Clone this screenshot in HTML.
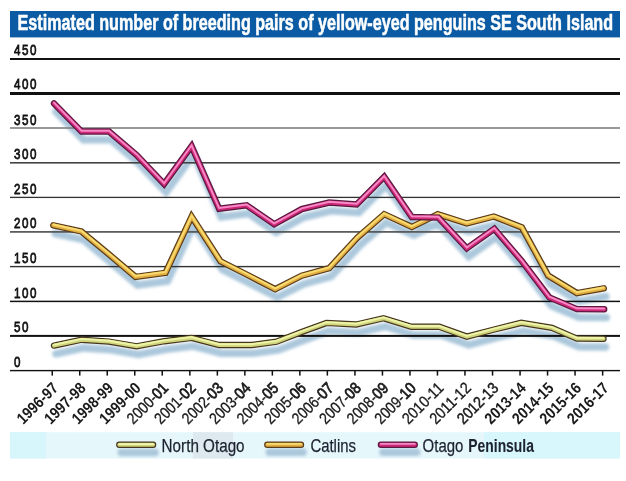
<!DOCTYPE html>
<html><head><meta charset="utf-8"><style>
html,body{margin:0;padding:0;background:#fff;}
body{width:626px;height:481px;overflow:hidden;}
svg{display:block;will-change:transform;}
text{font-family:"Liberation Sans",sans-serif;}
</style></head><body>
<svg width="626" height="481" viewBox="0 0 626 481">
<defs>
<filter id="sh" filterUnits="userSpaceOnUse" x="0" y="0" width="626" height="481"><feGaussianBlur stdDeviation="1.8"/></filter>
</defs>
<rect x="0" y="0" width="626" height="481" fill="#fff"/>
<rect x="10" y="11" width="610" height="26.4" fill="#0a5ba4"/>
<text x="17.6" y="30.1" font-size="22" font-weight="bold" fill="#fff" stroke="#fff" stroke-width="0.55" textLength="595.5" lengthAdjust="spacingAndGlyphs">Estimated number of breeding pairs of yellow-eyed penguins SE South Island</text>

<g filter="url(#sh)">
<polyline points="54.0,345.6 81.5,339.7 109.0,341.6 136.6,346.3 164.1,341.2 191.6,337.9 219.1,345.0 251.5,345.0 276.5,341.7 301.7,332.0 326.5,322.9 356.3,324.5 383.5,318.2 411.4,326.8 439.3,326.8 466.8,336.6 494.3,329.5 521.2,322.8 552.0,327.9 576.9,338.6 603.5,338.8" transform="translate(2.0,8.2)" fill="none" stroke="#abc7db" stroke-width="7.5" stroke-linejoin="miter" stroke-linecap="round"/>
<polyline points="53.3,225.3 81.4,231.5 108.0,253.5 135.5,276.8 165.5,272.8 191.6,216.5 220.5,261.3 246.6,274.5 275.2,289.2 301.7,275.7 329.2,268.1 357.5,237.5 384.2,214.2 411.8,227.0 437.8,214.2 466.8,223.5 493.8,216.5 521.8,227.4 548.2,275.6 576.9,293.1 603.8,288.3" transform="translate(2.0,8.2)" fill="none" stroke="#abc7db" stroke-width="7.5" stroke-linejoin="miter" stroke-linecap="round"/>
<polyline points="54.0,103.4 81.5,131.5 109.0,131.5 136.6,155.0 164.1,184.0 191.6,146.1 219.1,208.7 246.6,205.3 274.2,224.2 301.7,209.1 329.2,202.6 356.7,204.5 384.2,176.8 411.8,217.0 438.3,217.6 466.8,248.3 494.3,228.8 521.8,261.0 549.4,297.5 576.9,309.1 604.2,309.3" transform="translate(2.0,8.2)" fill="none" stroke="#abc7db" stroke-width="7.5" stroke-linejoin="miter" stroke-linecap="round"/>
</g>
<rect x="10" y="58.00" width="610" height="2.00" fill="#111"/>
<text transform="translate(14,55.2) scale(0.76,1)" font-size="15.3" letter-spacing="1.95" fill="#111" stroke="#111" stroke-width="0.8">450</text>
<rect x="10" y="92.00" width="610" height="3.00" fill="#111"/>
<text transform="translate(14,89.2) scale(0.76,1)" font-size="15.3" letter-spacing="1.95" fill="#111" stroke="#111" stroke-width="0.8">400</text>
<rect x="10" y="127.20" width="610" height="1.60" fill="#808080"/>
<text transform="translate(14,124.5) scale(0.76,1)" font-size="15.3" letter-spacing="1.95" fill="#111" stroke="#111" stroke-width="0.8">350</text>
<rect x="10" y="162.00" width="610" height="1.60" fill="#444"/>
<text transform="translate(14,159.2) scale(0.76,1)" font-size="15.3" letter-spacing="1.95" fill="#111" stroke="#111" stroke-width="0.8">300</text>
<rect x="10" y="196.75" width="610" height="1.30" fill="#333"/>
<text transform="translate(14,194.0) scale(0.76,1)" font-size="15.3" letter-spacing="1.95" fill="#111" stroke="#111" stroke-width="0.8">250</text>
<rect x="10" y="231.05" width="610" height="1.70" fill="#555"/>
<text transform="translate(14,228.3) scale(0.76,1)" font-size="15.3" letter-spacing="1.95" fill="#111" stroke="#111" stroke-width="0.8">200</text>
<rect x="10" y="265.90" width="610" height="1.40" fill="#333"/>
<text transform="translate(14,263.2) scale(0.76,1)" font-size="15.3" letter-spacing="1.95" fill="#111" stroke="#111" stroke-width="0.8">150</text>
<rect x="10" y="300.65" width="610" height="1.50" fill="#111"/>
<text transform="translate(14,297.9) scale(0.76,1)" font-size="15.3" letter-spacing="1.95" fill="#111" stroke="#111" stroke-width="0.8">100</text>
<rect x="10" y="334.90" width="610" height="2.00" fill="#111"/>
<text transform="translate(14,332.1) scale(0.76,1)" font-size="15.3" letter-spacing="1.95" fill="#111" stroke="#111" stroke-width="0.8">50</text>
<rect x="10" y="369.90" width="610" height="1.40" fill="#111"/>
<text transform="translate(14,367.2) scale(0.76,1)" font-size="15.3" letter-spacing="1.95" fill="#111" stroke="#111" stroke-width="0.8">0</text>
<rect x="51.5" y="370.6" width="1.5" height="5" fill="#111"/>
<rect x="79.0" y="370.6" width="1.5" height="5" fill="#111"/>
<rect x="106.5" y="370.6" width="1.5" height="5" fill="#111"/>
<rect x="134.0" y="370.6" width="1.5" height="5" fill="#111"/>
<rect x="161.5" y="370.6" width="1.5" height="5" fill="#111"/>
<rect x="189.1" y="370.6" width="1.5" height="5" fill="#111"/>
<rect x="216.6" y="370.6" width="1.5" height="5" fill="#111"/>
<rect x="244.1" y="370.6" width="1.5" height="5" fill="#111"/>
<rect x="271.6" y="370.6" width="1.5" height="5" fill="#111"/>
<rect x="299.1" y="370.6" width="1.5" height="5" fill="#111"/>
<rect x="326.6" y="370.6" width="1.5" height="5" fill="#111"/>
<rect x="354.2" y="370.6" width="1.5" height="5" fill="#111"/>
<rect x="381.7" y="370.6" width="1.5" height="5" fill="#111"/>
<rect x="409.2" y="370.6" width="1.5" height="5" fill="#111"/>
<rect x="436.7" y="370.6" width="1.5" height="5" fill="#111"/>
<rect x="464.2" y="370.6" width="1.5" height="5" fill="#111"/>
<rect x="491.8" y="370.6" width="1.5" height="5" fill="#111"/>
<rect x="519.3" y="370.6" width="1.5" height="5" fill="#111"/>
<rect x="546.8" y="370.6" width="1.5" height="5" fill="#111"/>
<rect x="574.3" y="370.6" width="1.5" height="5" fill="#111"/>
<rect x="601.9" y="370.6" width="1.5" height="5" fill="#111"/>
<text transform="translate(59.2,389) rotate(-45)" text-anchor="end" font-size="16" font-weight="bold" fill="#1a1a1a" textLength="51" lengthAdjust="spacingAndGlyphs">1996-97</text>
<text transform="translate(86.7,389) rotate(-45)" text-anchor="end" font-size="16" font-weight="bold" fill="#1a1a1a" textLength="51" lengthAdjust="spacingAndGlyphs">1997-98</text>
<text transform="translate(114.2,389) rotate(-45)" text-anchor="end" font-size="16" font-weight="bold" fill="#1a1a1a" textLength="51" lengthAdjust="spacingAndGlyphs">1998-99</text>
<text transform="translate(141.8,389) rotate(-45)" text-anchor="end" font-size="16" font-weight="bold" fill="#1a1a1a" textLength="51" lengthAdjust="spacingAndGlyphs">1999-00</text>
<text transform="translate(169.3,389) rotate(-45)" text-anchor="end" font-size="16" fill="#1a1a1a" stroke="#1a1a1a" stroke-width="0.3" textLength="51" lengthAdjust="spacingAndGlyphs">2000-<tspan stroke-width="0.75">01</tspan></text>
<text transform="translate(196.8,389) rotate(-45)" text-anchor="end" font-size="16" fill="#1a1a1a" stroke="#1a1a1a" stroke-width="0.3" textLength="51" lengthAdjust="spacingAndGlyphs">2001-<tspan stroke-width="0.75">02</tspan></text>
<text transform="translate(224.3,389) rotate(-45)" text-anchor="end" font-size="16" fill="#1a1a1a" stroke="#1a1a1a" stroke-width="0.3" textLength="51" lengthAdjust="spacingAndGlyphs">2002-<tspan stroke-width="0.75">03</tspan></text>
<text transform="translate(251.8,389) rotate(-45)" text-anchor="end" font-size="16" fill="#1a1a1a" stroke="#1a1a1a" stroke-width="0.3" textLength="51" lengthAdjust="spacingAndGlyphs">2003-<tspan stroke-width="0.75">04</tspan></text>
<text transform="translate(279.4,389) rotate(-45)" text-anchor="end" font-size="16" fill="#1a1a1a" stroke="#1a1a1a" stroke-width="0.3" textLength="51" lengthAdjust="spacingAndGlyphs">2004-<tspan stroke-width="0.75">05</tspan></text>
<text transform="translate(306.9,389) rotate(-45)" text-anchor="end" font-size="16" fill="#1a1a1a" stroke="#1a1a1a" stroke-width="0.3" textLength="51" lengthAdjust="spacingAndGlyphs">2005-<tspan stroke-width="0.75">06</tspan></text>
<text transform="translate(334.4,389) rotate(-45)" text-anchor="end" font-size="16" fill="#1a1a1a" stroke="#1a1a1a" stroke-width="0.3" textLength="51" lengthAdjust="spacingAndGlyphs">2006-<tspan stroke-width="0.75">07</tspan></text>
<text transform="translate(361.9,389) rotate(-45)" text-anchor="end" font-size="16" fill="#1a1a1a" stroke="#1a1a1a" stroke-width="0.3" textLength="51" lengthAdjust="spacingAndGlyphs">2007-<tspan stroke-width="0.75">08</tspan></text>
<text transform="translate(389.4,389) rotate(-45)" text-anchor="end" font-size="16" fill="#1a1a1a" stroke="#1a1a1a" stroke-width="0.3" textLength="51" lengthAdjust="spacingAndGlyphs">2008-<tspan stroke-width="0.75">09</tspan></text>
<text transform="translate(417.0,389) rotate(-45)" text-anchor="end" font-size="16" fill="#1a1a1a" stroke="#1a1a1a" stroke-width="0.3" textLength="51" lengthAdjust="spacingAndGlyphs">2009-<tspan stroke-width="0.75">10</tspan></text>
<text transform="translate(444.5,389) rotate(-45)" text-anchor="end" font-size="16" fill="#1a1a1a" stroke="#1a1a1a" stroke-width="0.3" textLength="51" lengthAdjust="spacingAndGlyphs">2010-<tspan stroke-width="0.3">11</tspan></text>
<text transform="translate(472.0,389) rotate(-45)" text-anchor="end" font-size="16" fill="#1a1a1a" stroke="#1a1a1a" stroke-width="0.3" textLength="51" lengthAdjust="spacingAndGlyphs">2011-<tspan stroke-width="0.3">12</tspan></text>
<text transform="translate(499.5,389) rotate(-45)" text-anchor="end" font-size="16" fill="#1a1a1a" stroke="#1a1a1a" stroke-width="0.5" textLength="51" lengthAdjust="spacingAndGlyphs">2012-<tspan stroke-width="0.5">13</tspan></text>
<text transform="translate(527.0,389) rotate(-45)" text-anchor="end" font-size="16" font-weight="bold" fill="#1a1a1a" textLength="51" lengthAdjust="spacingAndGlyphs">2013-14</text>
<text transform="translate(554.6,389) rotate(-45)" text-anchor="end" font-size="16" font-weight="bold" fill="#1a1a1a" textLength="51" lengthAdjust="spacingAndGlyphs">2014-15</text>
<text transform="translate(582.1,389) rotate(-45)" text-anchor="end" font-size="16" font-weight="bold" fill="#1a1a1a" textLength="51" lengthAdjust="spacingAndGlyphs">2015-16</text>
<text transform="translate(609.6,389) rotate(-45)" text-anchor="end" font-size="16" font-weight="bold" fill="#1a1a1a" textLength="51" lengthAdjust="spacingAndGlyphs">2016-17</text>
<polyline points="54.0,345.6 81.5,339.7 109.0,341.6 136.6,346.3 164.1,341.2 191.6,337.9 219.1,345.0 251.5,345.0 276.5,341.7 301.7,332.0 326.5,322.9 356.3,324.5 383.5,318.2 411.4,326.8 439.3,326.8 466.8,336.6 494.3,329.5 521.2,322.8 552.0,327.9 576.9,338.6 603.5,338.8" fill="none" stroke="#46361e" stroke-width="6.4" stroke-linejoin="miter" stroke-linecap="round"/>
<polyline points="54.0,345.6 81.5,339.7 109.0,341.6 136.6,346.3 164.1,341.2 191.6,337.9 219.1,345.0 251.5,345.0 276.5,341.7 301.7,332.0 326.5,322.9 356.3,324.5 383.5,318.2 411.4,326.8 439.3,326.8 466.8,336.6 494.3,329.5 521.2,322.8 552.0,327.9 576.9,338.6 603.5,338.8" fill="none" stroke="#d0d47c" stroke-width="4.0" stroke-linejoin="miter" stroke-linecap="round"/>
<polyline points="54.0,345.6 81.5,339.7 109.0,341.6 136.6,346.3 164.1,341.2 191.6,337.9 219.1,345.0 251.5,345.0 276.5,341.7 301.7,332.0 326.5,322.9 356.3,324.5 383.5,318.2 411.4,326.8 439.3,326.8 466.8,336.6 494.3,329.5 521.2,322.8 552.0,327.9 576.9,338.6 603.5,338.8" transform="translate(0,-0.8)" fill="none" stroke="#eef4a8" stroke-width="1.9" stroke-linejoin="miter" stroke-linecap="round"/>
<polyline points="53.3,225.3 81.4,231.5 108.0,253.5 135.5,276.8 165.5,272.8 191.6,216.5 220.5,261.3 246.6,274.5 275.2,289.2 301.7,275.7 329.2,268.1 357.5,237.5 384.2,214.2 411.8,227.0 437.8,214.2 466.8,223.5 493.8,216.5 521.8,227.4 548.2,275.6 576.9,293.1 603.8,288.3" fill="none" stroke="#5a3c1a" stroke-width="6.4" stroke-linejoin="miter" stroke-linecap="round"/>
<polyline points="53.3,225.3 81.4,231.5 108.0,253.5 135.5,276.8 165.5,272.8 191.6,216.5 220.5,261.3 246.6,274.5 275.2,289.2 301.7,275.7 329.2,268.1 357.5,237.5 384.2,214.2 411.8,227.0 437.8,214.2 466.8,223.5 493.8,216.5 521.8,227.4 548.2,275.6 576.9,293.1 603.8,288.3" fill="none" stroke="#e2ae42" stroke-width="4.0" stroke-linejoin="miter" stroke-linecap="round"/>
<polyline points="53.3,225.3 81.4,231.5 108.0,253.5 135.5,276.8 165.5,272.8 191.6,216.5 220.5,261.3 246.6,274.5 275.2,289.2 301.7,275.7 329.2,268.1 357.5,237.5 384.2,214.2 411.8,227.0 437.8,214.2 466.8,223.5 493.8,216.5 521.8,227.4 548.2,275.6 576.9,293.1 603.8,288.3" transform="translate(0,-0.8)" fill="none" stroke="#f8dc70" stroke-width="1.9" stroke-linejoin="miter" stroke-linecap="round"/>
<polyline points="54.0,103.4 81.5,131.5 109.0,131.5 136.6,155.0 164.1,184.0 191.6,146.1 219.1,208.7 246.6,205.3 274.2,224.2 301.7,209.1 329.2,202.6 356.7,204.5 384.2,176.8 411.8,217.0 438.3,217.6 466.8,248.3 494.3,228.8 521.8,261.0 549.4,297.5 576.9,309.1 604.2,309.3" fill="none" stroke="#5a1a40" stroke-width="6.4" stroke-linejoin="miter" stroke-linecap="round"/>
<polyline points="54.0,103.4 81.5,131.5 109.0,131.5 136.6,155.0 164.1,184.0 191.6,146.1 219.1,208.7 246.6,205.3 274.2,224.2 301.7,209.1 329.2,202.6 356.7,204.5 384.2,176.8 411.8,217.0 438.3,217.6 466.8,248.3 494.3,228.8 521.8,261.0 549.4,297.5 576.9,309.1 604.2,309.3" fill="none" stroke="#d02878" stroke-width="4.0" stroke-linejoin="miter" stroke-linecap="round"/>
<polyline points="54.0,103.4 81.5,131.5 109.0,131.5 136.6,155.0 164.1,184.0 191.6,146.1 219.1,208.7 246.6,205.3 274.2,224.2 301.7,209.1 329.2,202.6 356.7,204.5 384.2,176.8 411.8,217.0 438.3,217.6 466.8,248.3 494.3,228.8 521.8,261.0 549.4,297.5 576.9,309.1 604.2,309.3" transform="translate(0,-0.8)" fill="none" stroke="#f68ac6" stroke-width="1.9" stroke-linejoin="miter" stroke-linecap="round"/>
<rect x="10" y="432.2" width="610" height="26.3" fill="#e6f7fc"/>
<rect x="10" y="432.2" width="36" height="26.3" fill="#d6f6fc"/>
<rect x="193" y="432.2" width="40" height="26.3" fill="#dde9ee"/>
<rect x="484" y="432.2" width="136" height="26.3" fill="#d8f7fd"/>
<line x1="119.3" y1="444.8" x2="153.1" y2="444.8" transform="translate(2,7.6)" stroke="#abc7db" stroke-width="7.5" stroke-linecap="round" filter="url(#sh)"/>
<line x1="119.3" y1="444.8" x2="153.1" y2="444.8" stroke="#46361e" stroke-width="6.4" stroke-linecap="round"/>
<line x1="119.3" y1="444.8" x2="153.1" y2="444.8" stroke="#d0d47c" stroke-width="4.0" stroke-linecap="round"/>
<line x1="119.3" y1="444.0" x2="153.1" y2="444.0" stroke="#eef4a8" stroke-width="1.9" stroke-linecap="round"/>
<line x1="267.3" y1="444.7" x2="301.0" y2="444.7" transform="translate(2,7.6)" stroke="#abc7db" stroke-width="7.5" stroke-linecap="round" filter="url(#sh)"/>
<line x1="267.3" y1="444.7" x2="301.0" y2="444.7" stroke="#5a3c1a" stroke-width="6.4" stroke-linecap="round"/>
<line x1="267.3" y1="444.7" x2="301.0" y2="444.7" stroke="#e2ae42" stroke-width="4.0" stroke-linecap="round"/>
<line x1="267.3" y1="443.9" x2="301.0" y2="443.9" stroke="#f8dc70" stroke-width="1.9" stroke-linecap="round"/>
<line x1="380.9" y1="444.7" x2="414.8" y2="444.7" transform="translate(2,7.6)" stroke="#abc7db" stroke-width="7.5" stroke-linecap="round" filter="url(#sh)"/>
<line x1="380.9" y1="444.7" x2="414.8" y2="444.7" stroke="#5a1a40" stroke-width="6.4" stroke-linecap="round"/>
<line x1="380.9" y1="444.7" x2="414.8" y2="444.7" stroke="#d02878" stroke-width="4.0" stroke-linecap="round"/>
<line x1="380.9" y1="443.9" x2="414.8" y2="443.9" stroke="#f68ac6" stroke-width="1.9" stroke-linecap="round"/>
<text x="161.6" y="451.5" font-size="19" fill="#1c2230" stroke="#1c2230" stroke-width="0.25" textLength="83" lengthAdjust="spacingAndGlyphs">North Otago</text>
<text x="310.4" y="451.5" font-size="19" fill="#1c2230" stroke="#1c2230" stroke-width="0.25" textLength="45.6" lengthAdjust="spacingAndGlyphs">Catlins</text>
<text x="422.6" y="451.5" font-size="19" fill="#1c2230" stroke="#1c2230" stroke-width="0.25" textLength="40.8" lengthAdjust="spacingAndGlyphs">Otago</text>
<text x="468.3" y="451.5" font-size="19" font-weight="bold" fill="#1c2230" stroke="#1c2230" stroke-width="0.1" textLength="65.6" lengthAdjust="spacingAndGlyphs">Peninsula</text>
</svg>
</body></html>
